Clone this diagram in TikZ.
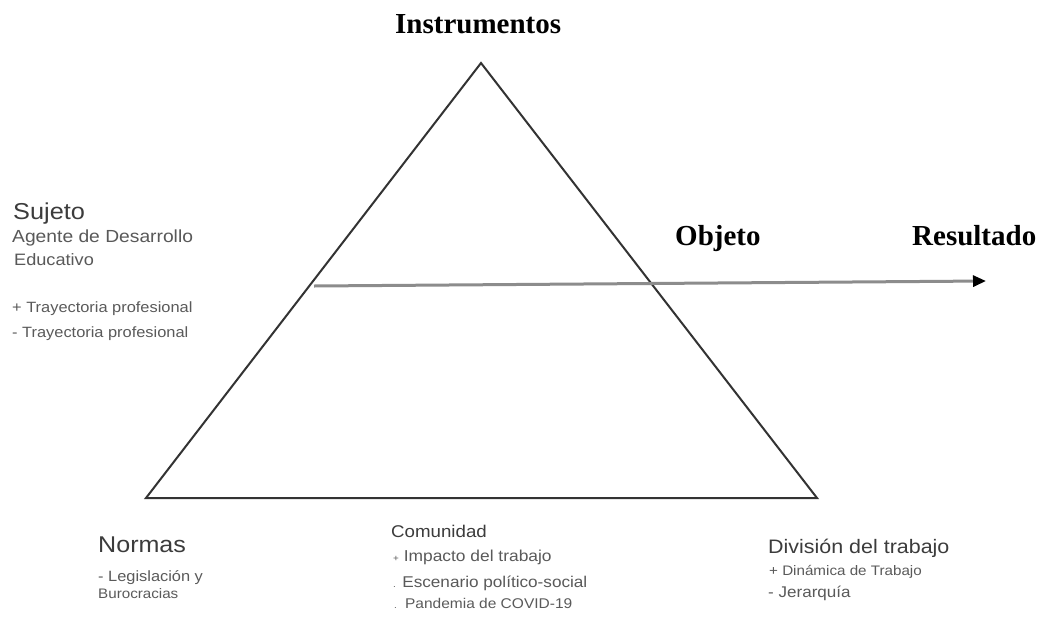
\documentclass[tikz,border=0pt]{standalone}
\usepackage{fontspec}
\setmainfont{Liberation Sans}[FakeStretch=1.1]
\newfontfamily\titlefont{Liberation Serif}
\usetikzlibrary{arrows.meta}
\newcommand\fsz[1]{\fontsize{#1}{#1}\selectfont}
\definecolor{headc}{HTML}{3C3C3C}
\definecolor{itemc}{HTML}{5A5A5A}
\definecolor{triline}{HTML}{333333}
\definecolor{arrline}{HTML}{8C8C8C}
\tikzset{
  lbl/.style={inner sep=0pt, anchor=base west},
  title/.style={inner sep=0pt, anchor=base west, font=\titlefont\bfseries\fsz{29}, text=black},
  head/.style={lbl, text=headc},
  item/.style={lbl, text=itemc},
  tri/.style={draw=triline, line width=2pt},
  flow/.style={draw=arrline, line width=3pt, -{Triangle[length=13pt,width=11pt,color=black]}}
}
\begin{document}
\begin{tikzpicture}[x=1pt,y=-1pt]
\useasboundingbox (0,0) rectangle (1040,616);
\fill[white] (0,0) rectangle (1040,616);
% triangle
\coordinate (apex) at (481,63);
\coordinate (bl) at (146,498);
\coordinate (br) at (817,498);
\draw[tri] (apex) -- (bl) -- (br) -- cycle;
% arrow
\coordinate (as) at (314,286);
\coordinate (ae) at (986,281);
\draw[flow] (as) -- (ae);
% titles
\node[title] (instr) at (395,33) {Instrumentos};
\node[title] (obj) at (675,245) {Objeto};
\node[title] (res) at (912,245) {Resultado};
% Sujeto
\node[head, font=\fsz{23}] (suj) at (13,219) {Sujeto};
\node[item, font=\fsz{17.5}, text=headc!85] (ag) at (12,242) {Agente de Desarrollo};
\node[item, font=\fsz{16.5}, text=headc!85] (edu) at (14,265) {Educativo};
\node[item, font=\fsz{14.9}] (t1) at (12,312) {+ Trayectoria profesional};
\node[item, font=\fsz{14.9}] (t2) at (12,337) {- Trayectoria profesional};
% Normas
\node[head, font=\fsz{22.8}] (norm) at (98,552) {Normas};
\node[item, font=\fsz{14.9}] (leg) at (98,581) {- Legislación y};
\node[item, font=\fsz{13.8}] (bur) at (98,598) {Burocracias};
% Comunidad
\node[head, font=\fsz{17}] (com) at (391,537) {Comunidad};
\node[item, font=\fsz{15.8}] (imp) at (393,561) {{\fsz{9}+} Impacto del trabajo};
\node[item, font=\fsz{15.6}] (esc) at (393,587) {{\fsz{9}.} Escenario político-social};
\node[item, font=\fsz{14.1}] (pan) at (394,608) {{\fsz{9}.}\, Pandemia de COVID-19};
% División
\node[head, font=\fsz{19.5}] (div) at (768,553) {División del trabajo};
\node[item, font=\fsz{13.8}] (din) at (769,575) {+ Dinámica de Trabajo};
\node[item, font=\fsz{15.5}] (jer) at (768,597) {- Jerarquía};
\end{tikzpicture}
\end{document}
